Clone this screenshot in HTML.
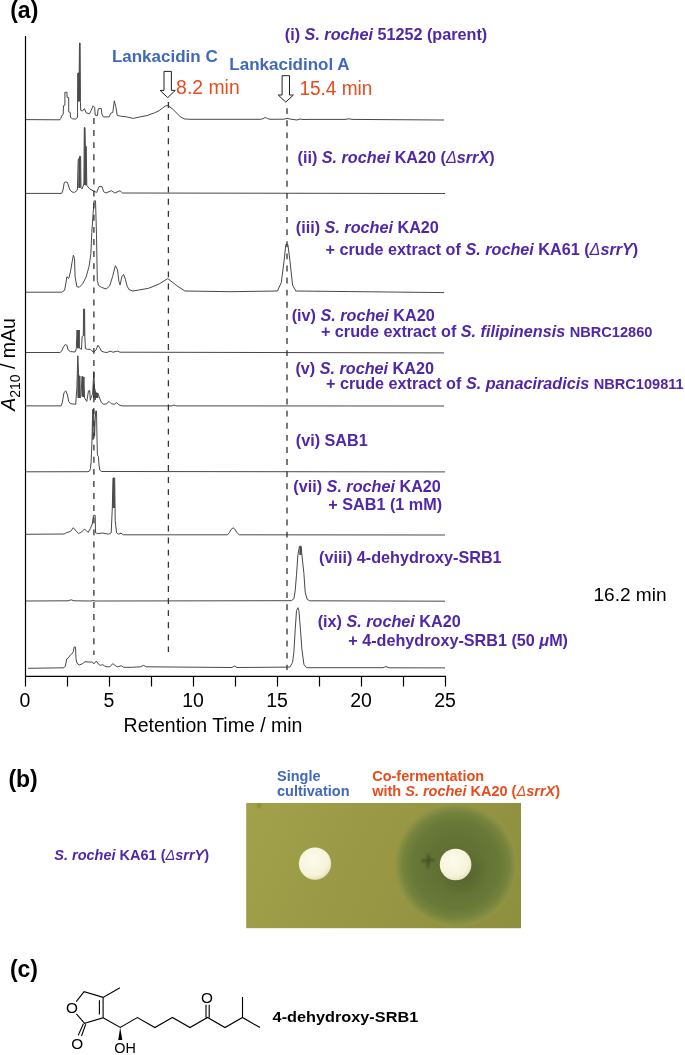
<!DOCTYPE html>
<html><head><meta charset="utf-8"><style>
html,body{margin:0;padding:0;background:#fff;}
svg{display:block;}
text{font-family:"Liberation Sans",Arial,sans-serif;}
.tr{fill:none;stroke:#484848;stroke-width:1;stroke-linejoin:miter;}
.fl{fill:#4a4a4a;stroke:none;}
.dash{stroke:#333;stroke-width:1.3;stroke-dasharray:5.9 6.2;}
.ax{fill:none;stroke:#000;stroke-width:1.2;}
.tick{font-size:19.5px;fill:#000;}
.pl{font-size:23px;font-weight:bold;fill:#000;}
.arr{fill:#fff;stroke:#222;stroke-width:1;}
.ann{font-size:17px;font-weight:bold;}
.min{font-size:19.1px;}
.lab{font-size:16.2px;font-weight:bold;fill:#5027a8;}
.bt{font-size:14.5px;font-weight:bold;}
.st path.b{fill:none;stroke:#000;stroke-width:1.1;}
.at{font-size:15.3px;fill:#000;}
.cn{font-size:15px;font-weight:bold;fill:#000;}
</style></head><body>
<svg width="685" height="1055" viewBox="0 0 685 1055">
<polyline class="tr" points="25.5,119.6 60.0,119.8 60.8,118.5 61.7,115.6 63.2,114.5 63.5,105.7 64.9,105.1 64.9,92.3 67.0,92.3 67.0,97.2 68.7,97.5 68.7,111.8 70.2,112.4 70.5,117.4 72.5,118.8 75.7,119.1 77.5,117.4 77.8,73.0 79.2,73.0 79.5,43.0 80.1,43.0 80.4,101.6 80.7,110.4 82.4,111.0 84.5,108.6 86.0,112.7 89.5,113.9 91.2,110.4 93.1,105.8 94.6,107.4 95.3,115.4 97.5,115.4 98.2,108.9 101.2,108.4 101.9,114.0 103.4,116.9 109.2,116.9 110.7,113.2 112.8,112.5 114.3,100.8 115.8,106.7 117.2,115.4 120.9,116.2 126.7,116.9 133.3,118.4 139.9,116.9 147.9,115.4 150.0,114.4 154.5,112.9 159.1,110.6 165.2,106.1 167.8,105.5 168.6,106.0 172.7,109.1 180.3,116.7 184.1,118.9 190.0,119.3 260.0,119.3 263.0,118.8 265.2,117.4 267.5,118.6 270.0,119.3 284.0,119.2 287.0,118.3 290.0,119.0 294.0,119.6 297.0,120.0 300.0,119.0 303.0,119.5 310.0,119.4 345.0,119.4 349.0,118.8 352.0,119.4 444.0,120.0"/>
<polyline class="tr" points="25.5,193.4 61.7,193.4 63.0,190.0 64.2,183.0 65.2,181.9 67.5,182.5 68.5,186.0 69.9,190.0 72.0,192.0 74.5,192.4 77.0,190.5 77.4,190.0 78.2,159.5 79.0,159.0 79.8,156.2 80.6,156.5 81.0,187.7 82.1,188.9 83.5,185.0 83.9,183.0 84.3,127.6 85.0,127.6 85.3,146.3 86.2,146.3 86.8,185.4 89.7,188.9 93.8,191.2 96.7,192.4 99.0,186.6 102.0,186.6 103.7,191.8 106.0,193.0 111.3,190.7 114.8,193.0 120.0,190.7 122.4,193.0 445.0,193.5"/>
<polyline class="tr" points="25.5,292.2 61.7,292.2 64.6,290.2 65.8,283.8 66.9,276.8 68.7,278.5 70.4,272.1 72.2,261.6 73.4,255.1 74.5,258.6 75.1,276.8 76.9,286.7 79.2,287.3 82.7,283.8 86.2,276.8 89.1,266.2 90.9,253.4 91.8,232.4 93.2,212.5 94.1,200.8 95.5,200.8 96.5,234.7 97.3,280.3 98.5,285.5 101.4,287.3 106.1,289.0 109.6,286.1 112.5,276.8 115.4,265.7 117.5,269.7 118.9,281.4 120.1,284.9 121.8,276.8 123.6,274.4 125.3,279.1 127.1,286.1 129.0,289.6 132.9,291.0 148.6,288.3 159.2,283.9 167.8,278.6 176.2,285.2 184.9,291.0 230.0,291.7 277.4,291.0 281.3,282.5 284.0,261.5 285.8,244.5 287.9,244.5 290.0,261.5 292.6,285.2 295.8,291.0 444.0,292.6"/>
<polyline class="tr" points="25.5,352.5 59.9,352.5 61.7,351.1 63.4,347.0 65.2,344.6 66.9,345.2 68.1,349.9 70.4,351.6 75.1,352.0 76.3,348.7 77.1,330.0 77.6,348.0 78.1,330.0 78.6,348.0 79.2,330.0 79.4,348.1 81.5,349.3 82.1,336.5 83.3,335.9 83.6,309.0 84.6,309.0 84.8,335.9 85.4,348.7 87.4,349.3 90.3,349.3 92.0,351.1 93.8,352.2 96.1,349.9 97.9,345.2 99.6,347.6 101.4,351.1 104.3,352.2 107.2,352.5 110.1,351.1 113.0,352.2 117.7,351.1 120.0,352.2 444.0,352.9"/>
<polyline class="tr" points="25.5,405.9 61.1,405.9 62.3,402.6 64.0,392.6 65.8,390.9 67.5,395.0 68.7,401.4 70.4,403.7 75.7,404.3 76.9,387.4 77.8,355.8 78.6,375.1 79.3,397.9 79.8,376.0 80.3,397.9 80.9,396.7 82.1,376.3 83.0,397.0 83.9,376.9 84.5,397.9 86.8,401.4 88.5,390.9 89.7,390.3 90.3,400.2 91.5,396.0 92.6,394.4 93.8,371.6 94.4,387.4 95.2,400.0 96.1,393.8 97.9,393.2 99.1,396.7 101.4,402.6 103.7,404.3 106.6,403.7 109.0,401.4 111.3,403.7 114.2,404.3 116.6,402.6 118.9,404.8 122.0,405.9 172.0,405.9 174.0,405.0 176.0,405.9 444.0,406.0"/>
<polyline class="tr" points="25.5,471.8 88.0,471.7 89.6,471.0 90.4,468.5 91.1,462.0 91.9,443.0 92.7,410.0 93.5,408.5 94.1,424.0 94.6,436.0 95.2,419.0 95.8,411.0 96.5,411.0 97.0,438.0 97.4,455.0 98.4,456.5 99.0,465.0 99.8,470.2 101.5,471.5 445.0,471.9"/>
<polyline class="tr" points="25.5,534.3 64.1,534.0 66.3,532.8 70.7,531.3 73.3,527.7 75.0,529.9 78.7,533.5 81.6,532.0 84.5,529.1 86.4,530.6 88.2,532.5 90.4,528.4 92.3,524.0 93.5,515.3 95.2,515.3 95.5,532.8 97.7,533.5 102.8,533.1 108.6,534.2 111.2,532.8 112.3,508.0 113.0,478.0 114.7,478.0 115.2,520.4 116.6,532.8 118.8,534.2 121.0,533.1 123.2,534.8 227.5,534.8 229.5,532.5 231.0,529.5 233.2,527.8 235.2,529.5 236.8,532.5 239.2,534.8 445.0,535.0"/>
<polyline class="tr" points="25.5,601.0 68.0,600.8 71.0,599.8 74.0,600.8 91.0,601.0 93.0,600.5 95.0,601.0 291.2,600.7 293.9,598.7 295.2,590.8 296.5,574.8 297.9,554.9 299.5,546.3 301.2,546.3 301.9,554.9 303.9,573.5 305.2,592.1 307.2,599.4 309.8,600.8 445.0,601.2"/>
<polyline class="tr" points="28.0,668.3 63.9,667.8 65.3,666.1 66.8,658.8 68.2,658.1 69.7,655.9 71.9,653.7 73.4,651.5 74.1,647.1 75.5,647.1 76.0,658.8 77.0,663.2 79.2,665.0 82.1,663.9 85.0,661.7 88.0,662.0 92.3,662.0 93.8,663.9 96.4,661.0 98.2,663.9 100.4,665.4 102.6,664.6 104.7,666.1 106.9,666.8 109.9,666.8 112.8,663.6 115.0,665.4 117.2,666.8 121.5,665.8 123.7,667.3 131.8,667.3 140.5,666.8 143.4,665.4 146.4,666.8 232.0,667.5 234.5,666.0 237.0,667.5 289.9,667.1 292.6,662.4 293.9,651.8 295.2,629.9 296.5,610.7 297.9,607.7 298.9,610.7 300.5,629.9 301.9,649.2 303.9,664.4 306.5,667.7 383.0,667.7 386.0,666.5 389.0,667.8 445.0,667.9"/>
<polygon class="fl" points="77.5,101.6 77.6,73.0 79.3,73.0 79.5,43.0 80.1,43.0 80.4,101.6"/>
<polygon class="fl" points="84.0,185.0 84.2,127.6 85.0,127.6 85.3,146.3 86.4,146.3 86.7,185.4"/>
<polygon class="fl" points="78.2,188.0 78.4,159.5 79.8,156.2 80.6,156.5 80.8,187.7"/>
<polygon class="fl" points="77.1,348.5 77.1,330.0 79.2,330.0 79.3,348.3"/>
<polygon class="fl" points="83.5,336.0 83.6,309.0 84.6,309.0 84.8,336.0"/>
<polygon class="fl" points="77.3,390.0 77.8,355.8 78.4,372.0 79.5,376.0 79.8,398.0 77.5,398.0"/>
<polygon class="fl" points="81.9,396.0 82.1,376.3 83.9,376.9 84.3,397.5"/>
<polygon class="fl" points="92.8,395.0 93.8,371.6 94.3,385.0 96.0,392.0 98.0,393.5 98.5,398.0 93.0,398.0"/>
<polygon class="fl" points="112.6,500.0 113.0,478.0 114.7,478.0 115.0,508.0 112.4,508.0"/>
<polygon class="fl" points="299.3,555.0 299.5,546.3 301.1,546.3 301.5,555.0"/>
<polygon class="fl" points="92.5,411.0 93.0,408.5 93.8,408.5 93.6,440.0 92.2,440.0"/>
<line class="dash" x1="93.9" y1="118" x2="93.9" y2="655"/>
<line class="dash" x1="168.4" y1="102" x2="168.4" y2="652"/>
<line class="dash" x1="287" y1="108.2" x2="287" y2="670"/>
<path class="ax" d="M25.5,36 V676.4 H446"/>
<path class="ax" d="M25.5,676 V686.5 M67.5,676 V686.5 M109.5,676 V686.5 M151.5,676 V686.5 M193.5,676 V686.5 M235.5,676 V686.5 M277.5,676 V686.5 M319.5,676 V686.5 M361.5,676 V686.5 M403.5,676 V686.5 M445.5,676 V686.5 "/>
<text class="tick" x="25.0" y="706.7" text-anchor="middle">0</text>
<text class="tick" x="109.0" y="706.7" text-anchor="middle">5</text>
<text class="tick" x="193.0" y="706.7" text-anchor="middle">10</text>
<text class="tick" x="277.0" y="706.7" text-anchor="middle">15</text>
<text class="tick" x="361.0" y="706.7" text-anchor="middle">20</text>
<text class="tick" x="445.0" y="706.7" text-anchor="middle">25</text>
<text class="tick" x="123.6" y="731.7">Retention Time / min</text>
<text class="tick" transform="translate(15.2,410.8) rotate(-90)"><tspan font-style="italic">A</tspan><tspan font-size="14" dy="5">210</tspan><tspan dy="-5"> / mAu</tspan></text>
<text class="pl" x="10.2" y="18">(a)</text>
<text class="pl" x="8.4" y="787">(b)</text>
<text class="pl" x="9.9" y="977">(c)</text>
<path class="arr" d="M164.0,71.4 V90.4 H160.1 L167.7,97.6 L175.3,90.4 H171.4 V71.4 Z"/>
<path class="arr" d="M282.1,75.7 V95 H278.2 L285.8,102.1 L293.4,95 H289.5 V75.7 Z"/>
<text class="ann" x="111.9" y="61.5" fill="#4168ba">Lankacidin C</text>
<text class="ann" x="229.3" y="69.9" fill="#4168ba">Lankacidinol A</text>
<text class="min" x="176.1" y="94.1" fill="#e84b1c" style="font-size:19.6px" textLength="63.6" lengthAdjust="spacingAndGlyphs">8.2 min</text>
<text class="min" x="299.4" y="95.3" fill="#e84b1c" style="font-size:19.6px" textLength="73" lengthAdjust="spacingAndGlyphs">15.4 min</text>
<text class="min" x="593.4" y="600.9" fill="#000">16.2 min</text>
<text class="lab" x="284.8" y="40.4">(i) <tspan font-style="italic">S. rochei</tspan> 51252 (parent)</text>
<text class="lab" x="297.5" y="162.7">(ii) <tspan font-style="italic">S. rochei</tspan> KA20 (<tspan font-style="italic" font-weight="normal">&#916;</tspan><tspan font-style="italic">srrX</tspan>)</text>
<text class="lab" x="295.8" y="233.2">(iii) <tspan font-style="italic">S. rochei</tspan> KA20</text>
<text class="lab" x="325.5" y="255.3">+ crude extract of <tspan font-style="italic">S. rochei</tspan> KA61 (<tspan font-style="italic" font-weight="normal">&#916;</tspan><tspan font-style="italic">srrY</tspan>)</text>
<text class="lab" x="291.7" y="320.7">(iv) <tspan font-style="italic">S. rochei</tspan> KA20</text>
<text class="lab" x="320.9" y="337">+ crude extract of <tspan font-style="italic">S. filipinensis</tspan> <tspan font-size="14.6">NBRC12860</tspan></text>
<text class="lab" x="295.4" y="374.4">(v) <tspan font-style="italic">S. rochei</tspan> KA20</text>
<text class="lab" x="326" y="388.6">+ crude extract of <tspan font-style="italic">S. panaciradicis</tspan> <tspan font-size="14.6">NBRC109811</tspan></text>
<text class="lab" x="295.8" y="445.6">(vi) SAB1</text>
<text class="lab" x="293.3" y="492.3">(vii) <tspan font-style="italic">S. rochei</tspan> KA20</text>
<text class="lab" x="328.3" y="509.8">+ SAB1 (1 mM)</text>
<text class="lab" x="319" y="563.4">(viii) 4-dehydroxy-SRB1</text>
<text class="lab" x="317.7" y="627">(ix) <tspan font-style="italic">S. rochei</tspan> KA20</text>
<text class="lab" x="348.2" y="646">+ 4-dehydroxy-SRB1 (50 <tspan font-style="italic">&#956;</tspan>M)</text>
<text class="bt" x="277" y="780.6" fill="#4168ba">Single</text>
<text class="bt" x="277" y="795.5" fill="#4168ba">cultivation</text>
<text class="bt" x="372.2" y="780.6" fill="#e84b1c">Co-fermentation</text>
<text class="bt" x="372.2" y="795.5" fill="#e84b1c">with <tspan font-style="italic">S. rochei</tspan> KA20 (<tspan font-style="italic" font-weight="normal">&#916;</tspan><tspan font-style="italic">srrX</tspan>)</text>
<text class="bt" x="54.3" y="859.8" fill="#5027a8"><tspan font-style="italic">S. rochei</tspan> KA61 (<tspan font-style="italic" font-weight="normal">&#916;</tspan><tspan font-style="italic">srrY</tspan>)</text>
<defs>
<radialGradient id="halo" cx="456" cy="865" r="63" gradientUnits="userSpaceOnUse">
<stop offset="0" stop-color="#5e6c32"/>
<stop offset="0.45" stop-color="#637335"/>
<stop offset="0.7" stop-color="#697938"/>
<stop offset="0.84" stop-color="#75833d"/>
<stop offset="0.93" stop-color="#879043" stop-opacity="0.9"/>
<stop offset="1" stop-color="#9a9a45" stop-opacity="0"/>
</radialGradient>
<radialGradient id="shadow" cx="462" cy="872" r="24" gradientUnits="userSpaceOnUse">
<stop offset="0" stop-color="#4a5a28" stop-opacity="0.6"/>
<stop offset="1" stop-color="#4a5a28" stop-opacity="0"/>
</radialGradient>
<linearGradient id="agar" x1="246.7" y1="802.7" x2="521" y2="928" gradientUnits="userSpaceOnUse">
<stop offset="0" stop-color="#a2a14b"/>
<stop offset="0.5" stop-color="#979744"/>
<stop offset="1" stop-color="#8e8f3f"/>
</linearGradient>
<radialGradient id="disc" cx="0.42" cy="0.38" r="0.65">
<stop offset="0" stop-color="#fdfcec"/>
<stop offset="0.75" stop-color="#f6f3da"/>
<stop offset="1" stop-color="#e6e1bb"/>
</radialGradient>
<filter id="blur1" x="-50%" y="-50%" width="200%" height="200%"><feGaussianBlur stdDeviation="0.8"/></filter>
<clipPath id="pc"><rect x="246.1" y="802.8" width="275" height="125.6"/></clipPath>
</defs>
<g clip-path="url(#pc)"><rect x="246.1" y="802.8" width="275" height="125.6" fill="url(#agar)"/>
<circle cx="456" cy="865" r="63" fill="url(#halo)"/>
<circle cx="462" cy="872" r="24" fill="url(#shadow)"/>
<path d="M421.5,861 L434.5,860 M428.5,854.5 L428,867.5" stroke="#3e4a24" stroke-width="2.2" opacity="0.9" filter="url(#blur1)"/><circle cx="259" cy="805.6" r="2.4" fill="#77772f" opacity="0.55" filter="url(#blur1)"/>
<circle cx="315" cy="863.6" r="16.1" fill="url(#disc)"/>
<circle cx="455.6" cy="864.5" r="15.8" fill="url(#disc)"/>
</g>
<g class="st">
<path class="b" d="M76.2,1001.6 L84.1,991.6 L103.1,997.4 L119.9,987.8 M103.1,997.4 V1017.8 L84.5,1023.3 L76.4,1013.8 M99.4,1000.2 V1014.6 M103.1,1017.8 L120.2,1027.4 L137.4,1017.6 L154.9,1027.6 L172.4,1017.4 L190,1027.6 L207.5,1017.4 L225,1027.6 L242.5,1017.4 L260,1027.6 M242.5,1017.4 V996.9 M206,1017.6 V1004.8 M209.2,1017.6 V1004.8 M83.4,1023.7 L78.2,1035.4 M85.7,1024.2 L81.5,1036.1"/>
<path d="M120.2,1027.6 L118.2,1040 L122.3,1040 Z" fill="#000" stroke="none"/>
</g>
<text class="at" x="72.05" y="1013.2" text-anchor="middle">O</text>
<text class="at" x="77.3" y="1048.5" text-anchor="middle">O</text>
<text class="at" x="207" y="1003" text-anchor="middle">O</text>
<text class="at" x="114.2" y="1052.8" style="font-size:14.4px">OH</text>
<text class="cn" x="272.6" y="1022" textLength="145.6" lengthAdjust="spacingAndGlyphs">4-dehydroxy-SRB1</text>
</svg>
</body></html>
